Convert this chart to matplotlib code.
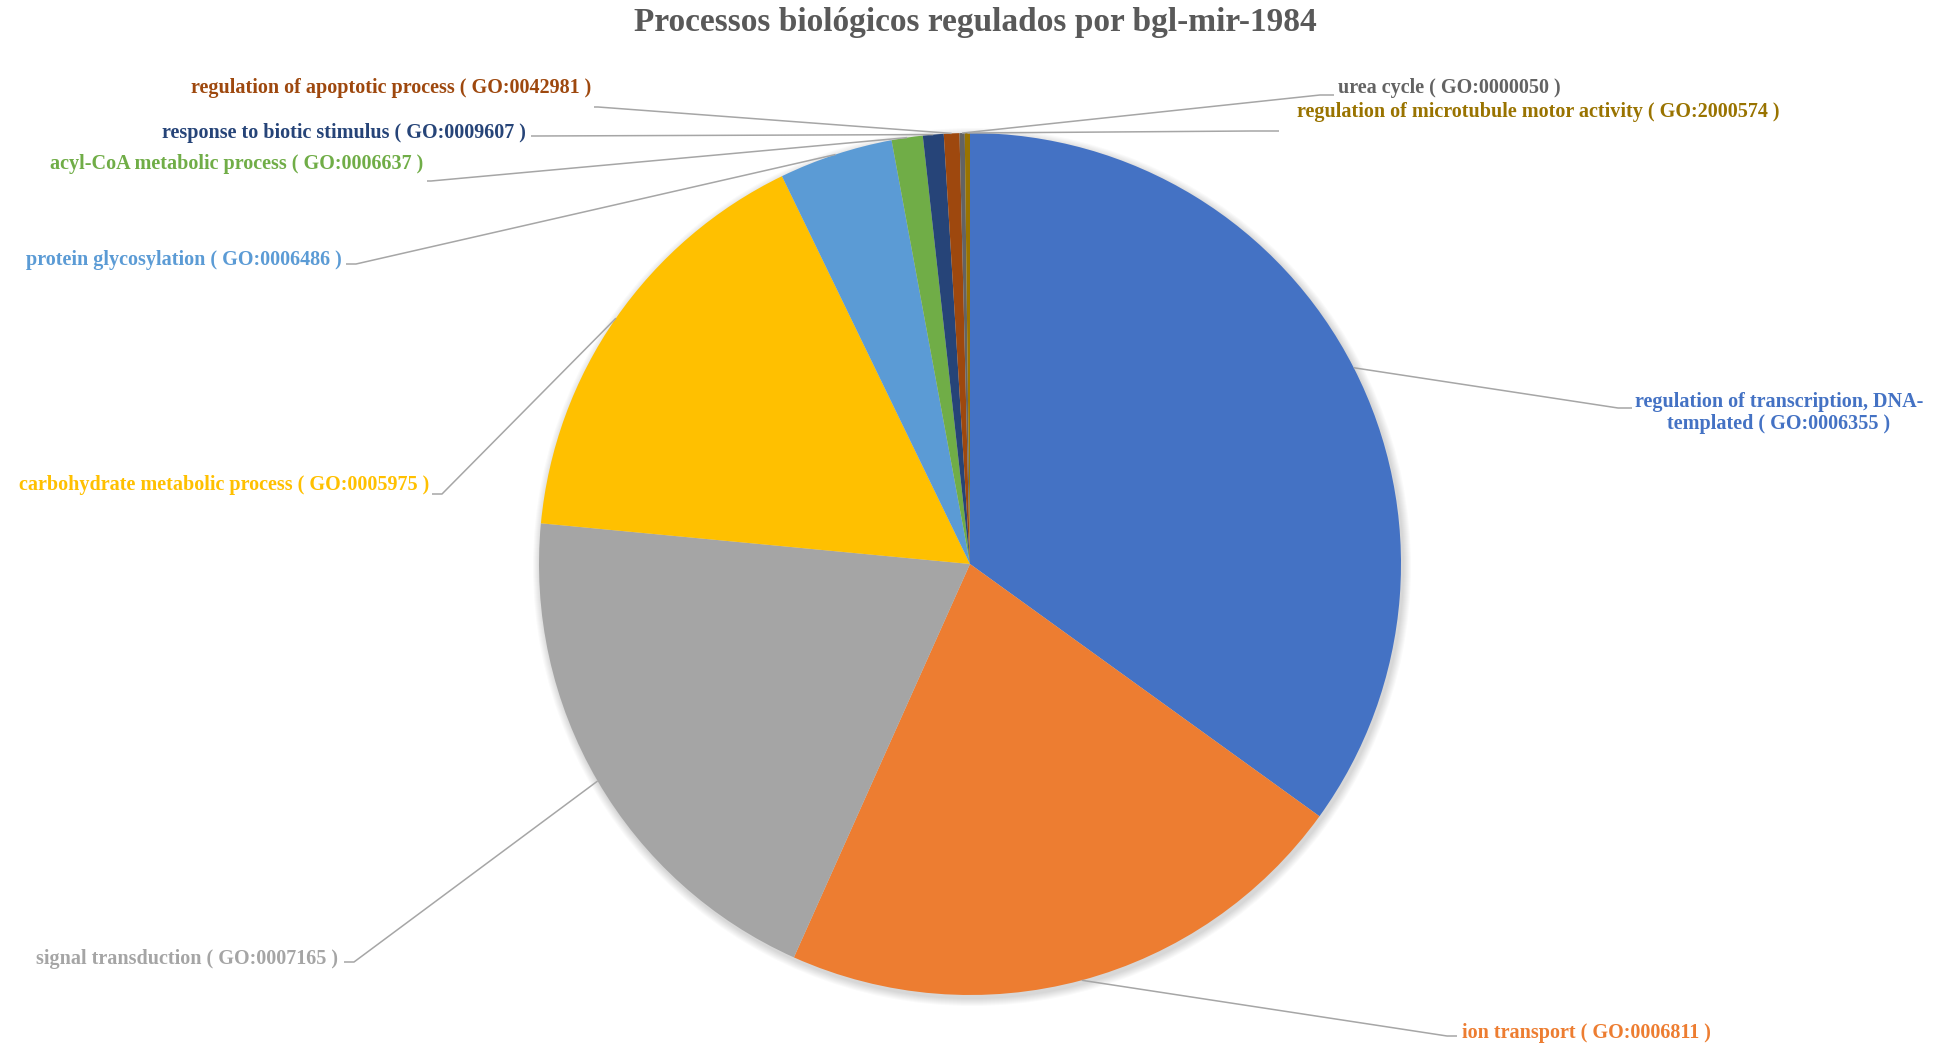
import matplotlib.pyplot as plt
import numpy as np
from matplotlib.patches import Circle

# Data (clockwise from 12 o'clock)
labels = [
    "regulation of transcription, DNA-\ntemplated ( GO:0006355 )",
    "ion transport ( GO:0006811 )",
    "signal transduction ( GO:0007165 )",
    "carbohydrate metabolic process ( GO:0005975 )",
    "protein glycosylation ( GO:0006486 )",
    "acyl-CoA metabolic process ( GO:0006637 )",
    "response to biotic stimulus ( GO:0009607 )",
    "regulation of apoptotic process ( GO:0042981 )",
    "urea cycle ( GO:0000050 )",
    "regulation of microtubule motor activity ( GO:2000574 )",
]
counts = [180, 112, 102, 84, 22, 6, 4, 3, 1, 1]
colors = ["#4472C4", "#ED7D31", "#A5A5A5", "#FFC000", "#5B9BD5",
          "#70AD47", "#264478", "#9E480E", "#636363", "#997300"]
title = "Processos biológicos regulados por bgl-mir-1984"

W, H = 1950, 1047
center = (970, 564)   # pixels from top-left
radius = 431

# label layout: text anchor (x, y from top), ha, elbow end point, elbow length
layout = [
    ((1779, 413), "center", (1632, 408), 14),
    ((1462, 1033), "left", (1457, 1036), 10),
    ((338, 959), "right", (344, 962), 10),
    ((429, 485), "right", (432, 494), 10),
    ((342, 260), "right", (346, 264), 10),
    ((423, 164), "right", (427, 181), 4),
    ((526, 133), "right", (531, 136), 4),
    ((591, 88), "right", (594, 107), 4),
    ((1338, 88), "left", (1334, 95), 14),
    ((1297, 112), "left", (1279, 131), 28),
]


def main():
    plt.rcParams["font.family"] = ["Liberation Serif", "DejaVu Serif"]
    fig = plt.figure(figsize=(W / 100, H / 100), dpi=100)
    ax = fig.add_axes([0, 0, 1, 1])

    cx, cy = center[0], H - center[1]

    # soft shadow behind the pie
    for k in range(8):
        ax.add_patch(Circle((cx + 2, cy - 3), radius + 1 + k, color="black",
                            alpha=0.018, lw=0, zorder=0))

    wedges, _ = ax.pie(counts, colors=colors, startangle=90, counterclock=False,
                       center=(cx, cy), radius=radius, frame=True,
                       wedgeprops=dict(linewidth=0))
    ax.set_xlim(0, W)
    ax.set_ylim(0, H)
    ax.set_aspect("equal")
    ax.axis("off")

    for wedge, text, color, (pos, ha, elbow, elen) in zip(wedges, labels, colors, layout):
        mid = np.deg2rad((wedge.theta1 + wedge.theta2) / 2)
        sx = cx + radius * np.cos(mid)
        sy = cy + radius * np.sin(mid)
        ex, ey = elbow[0], H - elbow[1]
        # short horizontal piece next to the text
        if ex > cx:
            kx = ex - elen
        else:
            kx = ex + elen
        ax.plot([sx, kx, ex], [sy, ey, ey], color="#A6A6A6", lw=1.1, zorder=3,
                solid_capstyle="butt")
        ax.text(pos[0], H - pos[1], text, ha=ha, va="center", color=color,
                fontsize=14.5, fontweight="bold", multialignment="center",
                linespacing=1.2, zorder=4)

    ax.text(W / 2, H - 23, title, ha="center", va="center", color="#595959",
            fontsize=24, fontweight="bold")

    fig.savefig("out.png", dpi=100)


if __name__ == "__main__":
    main()
